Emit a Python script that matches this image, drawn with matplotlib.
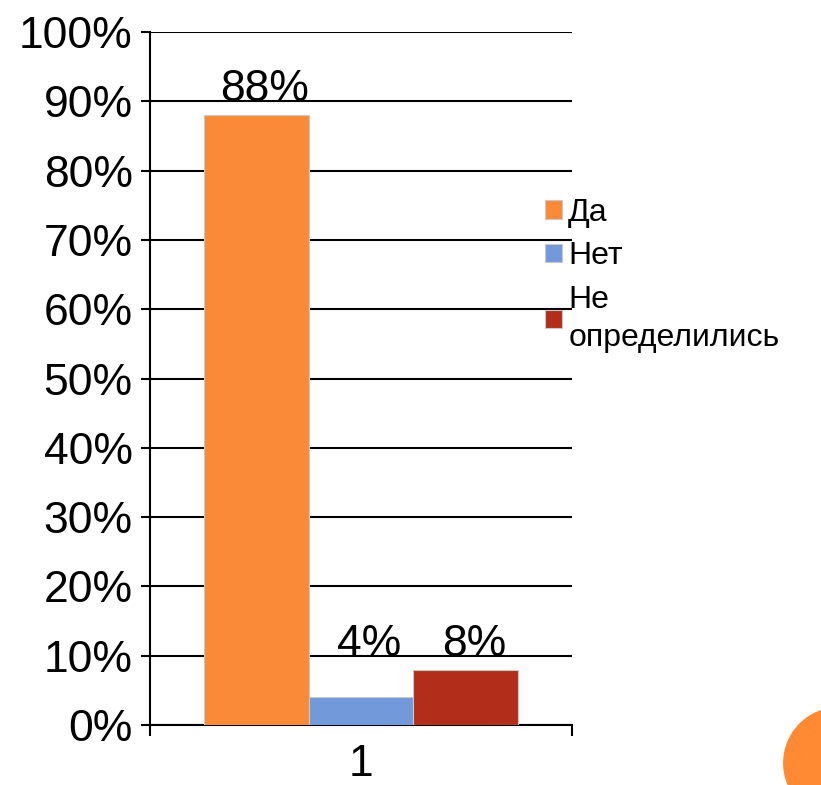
import matplotlib.pyplot as plt
from matplotlib.patches import Ellipse

plt.rcParams['font.family'] = ['Liberation Sans', 'DejaVu Sans']

# данные
categories = ["1"]
series = ["Да", "Нет", "Не\nопределились"]
values = [0.88, 0.04, 0.08]
value_labels = ["88%", "4%", "8%"]
colors = ["#FA8A37", "#7299D9", "#B22E1A"]
yticks = [0.0, 0.1, 0.2, 0.3, 0.4, 0.5, 0.6, 0.7, 0.8, 0.9, 1.0]
ytick_labels = ["0%", "10%", "20%", "30%", "40%", "50%", "60%", "70%", "80%", "90%", "100%"]

fig = plt.figure(figsize=(8.21, 7.85), dpi=100)
ax = fig.add_axes([0.1827, 0.0764, 0.514, 0.8828])

width = 0.248
offsets = [-width, 0, width]
for i in range(len(series)):
    ax.bar(offsets[i], values[i], width=width, color=colors[i],
           edgecolor="#c8c8c8", linewidth=0.8, label=series[i], zorder=3)
    # подписи над столбцами
    ax.text(offsets[i] + 0.02, max(values[i], 0.08) + 0.02, value_labels[i],
            ha="center", va="baseline", fontsize=32, zorder=4)

ax.set_xlim(-0.5, 0.5)
ax.set_ylim(0, 1)
ax.set_yticks(yticks)
ax.set_yticklabels(ytick_labels, fontsize=32)
ax.set_xticks([0])
ax.set_xticklabels(categories, fontsize=32)
ax.set_xticks([-0.5, 0.5], minor=True)

ax.tick_params(axis="y", direction="out", length=6.5, width=1.5, pad=6)
ax.tick_params(axis="x", which="major", length=0, pad=14)
ax.tick_params(axis="x", which="minor", direction="out", length=8, width=1.5)

ax.grid(axis="y", color="black", linewidth=1.5, zorder=1)
for s in ["top", "right"]:
    ax.spines[s].set_visible(False)
ax.spines["left"].set_linewidth(1.5)
ax.spines["bottom"].set_linewidth(1.5)

leg = fig.legend(loc="upper left", bbox_to_anchor=(0.664, 0.748), frameon=False,
                 fontsize=23, handlelength=0.52, handleheight=0.52, handletextpad=0.2,
                 labelspacing=0.42, borderpad=0, borderaxespad=0)
for t in leg.get_texts():
    t.set_linespacing(1.35)

# оранжевый круг в углу
fig.patches.append(Ellipse((1.022, 0.028), 0.1364, 0.1427, transform=fig.transFigure,
                           facecolor="#FF8A33", edgecolor="none", figure=fig))

plt.savefig("out.png", dpi=100)
